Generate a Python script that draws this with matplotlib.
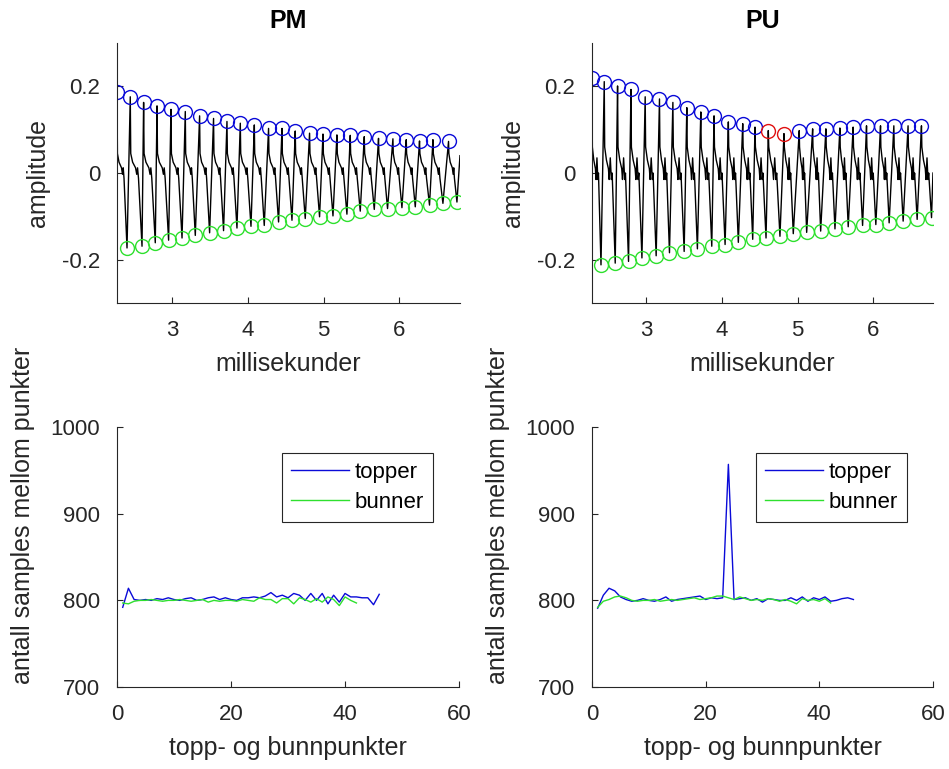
import numpy as np
import matplotlib
matplotlib.use('Agg')
import matplotlib.pyplot as plt

plt.rcParams['font.family'] = ['Liberation Sans', 'DejaVu Sans']

# topp/bunn i signalet (ms, amplitude)
pm_peak_t = [2.274, 2.449, 2.625, 2.802, 2.986, 3.175, 3.364, 3.548, 3.725, 3.901, 4.086, 4.274, 4.451,
             4.626, 4.815, 4.992, 5.176, 5.352, 5.537, 5.725, 5.915, 6.091, 6.266, 6.443, 6.649]
pm_peak_v = [0.188, 0.176, 0.163, 0.155, 0.147, 0.142, 0.132, 0.126, 0.119, 0.115, 0.111, 0.103, 0.103,
             0.097, 0.092, 0.090, 0.088, 0.087, 0.084, 0.080, 0.079, 0.077, 0.074, 0.077, 0.073]
pm_trough_t = [2.406, 2.604, 2.779, 2.955, 3.132, 3.307, 3.496, 3.680, 3.857, 4.042, 4.217, 4.406, 4.583,
               4.758, 4.947, 5.124, 5.308, 5.484, 5.669, 5.844, 6.034, 6.210, 6.398, 6.575, 6.760]
pm_trough_v = [-0.173, -0.169, -0.161, -0.155, -0.150, -0.144, -0.138, -0.133, -0.127, -0.123, -0.121,
               -0.113, -0.109, -0.105, -0.101, -0.099, -0.095, -0.088, -0.084, -0.082, -0.080, -0.078,
               -0.074, -0.070, -0.067]
pm_end = (6.80, 0.04)

pu_peak_t = [2.284, 2.446, 2.622, 2.799, 2.987, 3.176, 3.353, 3.537, 3.722, 3.897, 4.086, 4.276, 4.438,
             4.614, 4.821, 5.023, 5.200, 5.375, 5.560, 5.735, 5.912, 6.097, 6.273, 6.461, 6.638]
pu_peak_v = [0.219, 0.211, 0.201, 0.193, 0.176, 0.171, 0.163, 0.151, 0.141, 0.132, 0.118, 0.114, 0.106,
             0.098, 0.091, 0.098, 0.102, 0.102, 0.104, 0.106, 0.109, 0.109, 0.109, 0.109, 0.109]
pu_trough_t = [2.403, 2.591, 2.767, 2.944, 3.132, 3.308, 3.502, 3.677, 3.867, 4.043, 4.218, 4.408, 4.584,
               4.768, 4.944, 5.121, 5.306, 5.495, 5.670, 5.860, 6.035, 6.211, 6.396, 6.581, 6.771]
pu_trough_v = [-0.212, -0.208, -0.204, -0.196, -0.191, -0.184, -0.181, -0.175, -0.169, -0.165, -0.160,
               -0.153, -0.150, -0.146, -0.140, -0.137, -0.134, -0.129, -0.124, -0.121, -0.119, -0.115,
               -0.111, -0.107, -0.103]
pu_end = (6.79, 0.0)
pu_red = [13, 14]  # feil-markerte topper

# form mellom topp og bunn (andel av intervallet, amplitude)
pm_shape_f = [0.04, 0.2, 0.45, 0.55, 0.62, 0.70]
pm_shape_v = [0.045, 0.025, 0.012, -0.003, 0.012, -0.012]
pu_shape_f = [0.04, 0.2, 0.38, 0.45, 0.55, 0.65, 0.72]
pu_shape_v = [0.06, 0.03, 0.01, -0.015, 0.035, -0.015, 0.0]

# antall samples mellom punkter
pm_topper = [792, 814, 801, 800, 801, 800, 802, 801, 803, 801, 800, 802, 803, 800, 801, 803, 804, 801,
             803, 801, 800, 803, 803, 804, 803, 805, 809, 804, 806, 803, 808, 806, 800, 808, 800, 808,
             796, 806, 798, 808, 804, 804, 803, 803, 795, 807]
pm_bunner = [797, 796, 799, 800, 800, 801, 800, 799, 800, 800, 801, 800, 799, 800, 801, 798, 800, 799,
             800, 800, 799, 801, 800, 799, 803, 801, 801, 797, 802, 802, 796, 803, 801, 798, 802, 798,
             804, 801, 794, 804, 800, 797]
pu_topper = [791, 806, 814, 811, 804, 801, 799, 800, 802, 800, 799, 801, 804, 799, 801, 802, 803, 804,
             805, 801, 803, 802, 803, 957, 801, 802, 803, 800, 802, 798, 802, 801, 800, 800, 803, 800,
             804, 799, 803, 801, 804, 799, 800, 802, 803, 801]
pu_bunner = [792, 799, 801, 804, 805, 803, 800, 799, 800, 800, 801, 799, 800, 801, 800, 801, 802, 803,
             801, 802, 803, 805, 805, 803, 801, 804, 802, 800, 801, 800, 802, 801, 799, 801, 799, 796,
             802, 800, 801, 799, 802, 797]

AX = '#262626'
BLUE = '#0a0ad8'
GREEN = '#2ee02e'
TICK = 16
LAB = 18


def build_wave(pt, pv, tt, tv, sf, sv, end):
    t, v = [], []
    for i in range(len(pt)):
        t.append(pt[i]); v.append(pv[i])
        d = tt[i] - pt[i]
        for f, a in zip(sf, sv):
            t.append(pt[i] + f * d); v.append(a)
        t.append(tt[i]); v.append(tv[i])
    t.append(end[0]); v.append(end[1])
    return np.array(t), np.array(v)


def style(ax):
    ax.spines['top'].set_visible(False)
    ax.spines['right'].set_visible(False)
    for s in ['left', 'bottom']:
        ax.spines[s].set_color(AX)
        ax.spines[s].set_linewidth(0.8)
    ax.tick_params(direction='in', colors=AX, labelsize=TICK, length=4, width=0.8, pad=12)


fig = plt.figure(figsize=(9.49, 7.69), dpi=100)
pos = {
    'tl': [0.1233, 0.606, 0.3614, 0.338],
    'tr': [0.6238, 0.606, 0.3593, 0.338],
    'bl': [0.1233, 0.1066, 0.3604, 0.338],
    'br': [0.6238, 0.1066, 0.3593, 0.338],
}

panels = [
    ('tl', 'PM', pm_peak_t, pm_peak_v, pm_trough_t, pm_trough_v, pm_shape_f, pm_shape_v, pm_end, []),
    ('tr', 'PU', pu_peak_t, pu_peak_v, pu_trough_t, pu_trough_v, pu_shape_f, pu_shape_v, pu_end, pu_red),
]
for key, title, pt, pv, tt, tv, sf, sv, end, red in panels:
    ax = fig.add_axes(pos[key])
    t, v = build_wave(pt, pv, tt, tv, sf, sv, end)
    ax.plot(t, v, color='k', lw=1.0)
    blue = [i for i in range(len(pt)) if i not in red]
    ax.plot([pt[i] for i in blue], [pv[i] for i in blue], 'o', mfc='none', mec=BLUE, ms=10, mew=1.0)
    if red:
        ax.plot([pt[i] for i in red], [pv[i] for i in red], 'o', mfc='none', mec='#e01010', ms=10, mew=1.0)
    ax.plot(tt, tv, 'o', mfc='none', mec=GREEN, ms=10, mew=1.0)
    ax.set_xlim(t[0], t[-1])
    ax.set_ylim(-0.3, 0.3)
    ax.set_xticks([3, 4, 5, 6])
    ax.set_yticks([-0.2, 0, 0.2])
    ax.set_yticklabels(['-0.2', '0', '0.2'])
    ax.set_title(title, fontsize=LAB, fontweight='bold', color='k', pad=11)
    ax.set_xlabel('millisekunder', fontsize=LAB, color=AX, labelpad=8)
    ax.set_ylabel('amplitude', fontsize=LAB, color=AX, labelpad=9)
    style(ax)

for key, top, bun in [('bl', pm_topper, pm_bunner), ('br', pu_topper, pu_bunner)]:
    ax = fig.add_axes(pos[key])
    ax.plot(np.arange(1, len(top) + 1), top, color=BLUE, lw=1.0, label='topper')
    ax.plot(np.arange(1, len(bun) + 1), bun, color=GREEN, lw=1.0, label='bunner')
    ax.set_xlim(0, 60)
    ax.set_ylim(700, 1000)
    ax.set_xticks([0, 20, 40, 60])
    ax.set_yticks([700, 800, 900, 1000])
    ax.set_xlabel('topp- og bunnpunkter', fontsize=LAB, color=AX, labelpad=8)
    ax.set_ylabel('antall samples mellom punkter', fontsize=LAB, color=AX, labelpad=9)
    ax.yaxis.set_label_coords(-0.24, 0.66)
    style(ax)
    leg = ax.legend(loc='upper right', bbox_to_anchor=(0.923, 0.899), borderaxespad=0,
                    fontsize=TICK, fancybox=False, framealpha=1, edgecolor=AX,
                    handlelength=2.6, handletextpad=0.25, borderpad=0.4, labelspacing=0.4)
    leg.get_frame().set_linewidth(0.8)

fig.savefig('out.png', dpi=100)
